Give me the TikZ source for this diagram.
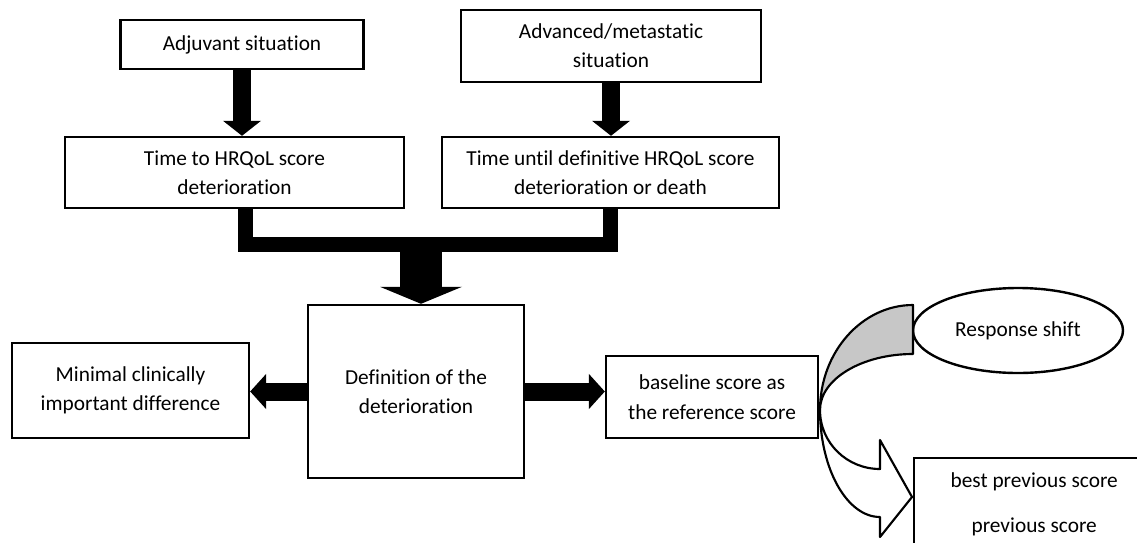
\documentclass[tikz,border=0pt]{standalone}
\usepackage{fontspec}
\setmainfont{Carlito}[Ligatures=NoCommon]
\usetikzlibrary{arrows.meta,calc,shapes.geometric}

\tikzset{
  box/.style={draw, line width=1.8pt, align=center, inner sep=2pt,
    font=\fontsize{16pt}{22pt}\selectfont},
  downarrow/.style={line width=13.5pt,
    -{Triangle[width=28.5pt,length=11.25pt,line width=0pt]}},
  sidearrow/.style={line width=13.5pt,
    -{Triangle[width=26.5pt,length=12pt,line width=0pt]}},
  bigarrow/.style={line width=31.5pt,
    -{Triangle[width=61.5pt,length=12.75pt,line width=0pt]}},
  bracket/.style={line width=11.25pt, line join=miter},
  band/.style={draw, line width=1.6pt, line join=round}
}

\begin{document}
\begin{tikzpicture}[x=0.75pt, y=-0.75pt]
    \useasboundingbox (0,0) rectangle (1137,542);
    \clip (0,0) rectangle (1137,542);

    % the two situations
    \node[box, minimum width=182.25pt, minimum height=36.75pt] (adj) at (242,44.5) {Adjuvant situation};
    \node[box, minimum width=225pt, minimum height=54pt] (adv) at (611,46) {Advanced/metastatic\\situation};
    \node[box, minimum width=254.25pt, minimum height=53.25pt] (time) at (234.5,172.5) {Time to HRQoL score\\deterioration};
    \node[box, minimum width=252.75pt, minimum height=53.25pt] (until) at (610.5,172.5) {Time until definitive HRQoL score\\deterioration or death};

    \draw[downarrow] (adj.south) -- (adj.south |- until.north);
    \draw[downarrow] (adv.south) -- (adv.south |- until.north);

    % merge into the definition
    \coordinate (merge) at (421,244.5);
    \draw[bracket] ($(time.south)+(11,0)$) |- (merge) -| (until.south);

    \node[box, minimum width=162pt, minimum height=129.75pt] (def) at (416,391.5) {Definition of the\\deterioration};
    \draw[bigarrow] (merge) -- (merge |- def.north);

    \node[box, minimum width=177.75pt, minimum height=71.25pt] (mcid) at (130.5,390.5) {Minimal clinically\\important difference};
    \node[box, minimum width=159pt, minimum height=61.5pt] (base) at (712,397) {baseline score as\\the reference score};
    \draw[sidearrow] (def.west) -- (def.west -| mcid.east);
    \draw[sidearrow] (def.east) -- (def.east -| base.west);

    % response shift and other references
    \node[box, ellipse, inner sep=0pt, minimum width=157.5pt, minimum height=63.75pt] (shift) at (1018,330.5) {Response shift};
    \node[box, anchor=north west, minimum width=180pt, minimum height=69pt] (best) at (913,457) {best previous score\\[11.75pt]previous score};

    \draw[band, fill=white] (820,410) .. controls (820,469) and (847,517) .. (880,517) -- (880,537) -- (912,497)
        -- (880,440) -- (880,469) .. controls (847,469) and (820,443) .. (820,410) -- cycle;
    \draw[band, fill=black!22] (820,410) .. controls (820,352) and (862,305) .. (913,305) -- (913,354)
        .. controls (862,354) and (820,379) .. (820,410) -- cycle;
\end{tikzpicture}
\end{document}
